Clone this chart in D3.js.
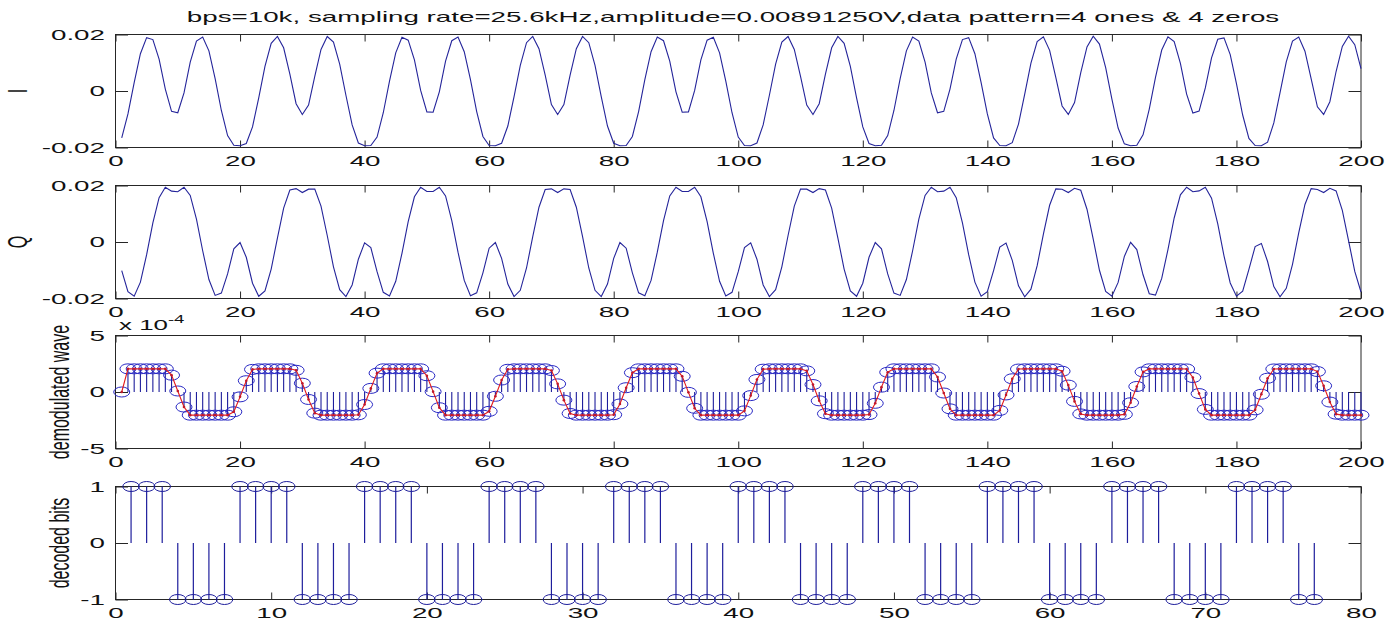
<!DOCTYPE html>
<html lang="en">
<head>
<meta charset="UTF-8" />
<title>bps=10k demodulation</title>
<script src="https://cdn.jsdelivr.net/npm/d3@7"></script>
<style>
  body { margin: 0; background: #fff; }
  svg { display: block; font-family: 'Liberation Sans', Arial, sans-serif; }
</style>
</head>
<body>
<div id="chart"></div>
<script>
const titleText = 'bps=10k, sampling rate=25.6kHz,amplitude=0.00891250V,data pattern=4 ones & 4 zeros'
const yLabels = ['I', 'Q', 'demodulated wave', 'decoded bits']

const sampleTicks = [0, 20, 40, 60, 80, 100, 120, 140, 160, 180, 200]
const bitTicks = [0, 10, 20, 30, 40, 50, 60, 70, 80]
const iqTicks = [-0.02, 0, 0.02]
const demodTicks = [-5, 0, 5]
const bitLevelTicks = [-1, 0, 1]

// samples 1..200
const iSignal = [
  -0.0166,-0.0081,0.0030,0.0132,0.0189,0.0182,0.0113,0.0007,-0.0072,-0.0077,-0.0007,0.0102,0.0177,0.0191,0.0142,0.0044,-0.0069,-0.0158,-0.0192,-0.0194,
  -0.0186,-0.0127,-0.0024,0.0087,0.0169,0.0193,0.0153,0.0060,-0.0045,-0.0083,-0.0050,0.0052,0.0147,0.0193,0.0173,0.0095,-0.0015,-0.0120,-0.0184,-0.0194,
  -0.0193,-0.0163,-0.0077,0.0035,0.0135,0.0190,0.0180,0.0110,0.0002,-0.0074,-0.0075,-0.0003,0.0106,0.0178,0.0191,0.0139,0.0040,-0.0073,-0.0161,-0.0193,
  -0.0194,-0.0185,-0.0124,-0.0020,0.0091,0.0171,0.0193,0.0150,0.0056,-0.0048,-0.0083,-0.0048,0.0056,0.0150,0.0193,0.0171,0.0091,-0.0020,-0.0124,-0.0185,
  -0.0194,-0.0193,-0.0161,-0.0073,0.0040,0.0139,0.0191,0.0178,0.0106,-0.0003,-0.0075,-0.0074,0.0002,0.0110,0.0180,0.0190,0.0135,0.0035,-0.0077,-0.0163,
  -0.0193,-0.0194,-0.0184,-0.0120,-0.0015,0.0095,0.0173,0.0193,0.0147,0.0052,-0.0050,-0.0083,-0.0045,0.0060,0.0153,0.0193,0.0169,0.0087,-0.0024,-0.0127,
  -0.0186,-0.0194,-0.0192,-0.0158,-0.0069,0.0044,0.0142,0.0191,0.0177,0.0102,-0.0007,-0.0077,-0.0072,0.0007,0.0113,0.0182,0.0189,0.0132,0.0030,-0.0081,
  -0.0166,-0.0193,-0.0194,-0.0183,-0.0117,-0.0011,0.0099,0.0175,0.0192,0.0144,0.0047,-0.0053,-0.0083,-0.0041,0.0065,0.0156,0.0194,0.0166,0.0083,-0.0029,
  -0.0131,-0.0187,-0.0194,-0.0192,-0.0155,-0.0064,0.0048,0.0145,0.0192,0.0175,0.0098,-0.0011,-0.0078,-0.0071,0.0011,0.0117,0.0183,0.0188,0.0129,0.0026,
  -0.0085,-0.0168,-0.0193,-0.0194,-0.0181,-0.0113,-0.0006,0.0103,0.0177,0.0191,0.0141,0.0043,-0.0056,-0.0083,-0.0038,0.0069,0.0158,0.0194,0.0164,0.0079
]

const qSignal = [
  -0.0101,-0.0176,-0.0192,-0.0142,-0.0045,0.0068,0.0157,0.0194,0.0180,0.0178,0.0194,0.0165,0.0081,-0.0031,-0.0133,-0.0189,-0.0181,-0.0113,-0.0024,-0.0002,
  -0.0054,-0.0146,-0.0192,-0.0173,-0.0096,0.0014,0.0120,0.0184,0.0189,0.0175,0.0187,0.0187,0.0127,0.0023,-0.0088,-0.0169,-0.0193,-0.0152,-0.0061,-0.0003,
  -0.0020,-0.0105,-0.0178,-0.0191,-0.0139,-0.0040,0.0072,0.0160,0.0194,0.0179,0.0179,0.0194,0.0163,0.0076,-0.0036,-0.0136,-0.0190,-0.0180,-0.0109,-0.0022,
  -0.0002,-0.0058,-0.0149,-0.0193,-0.0171,-0.0092,0.0019,0.0123,0.0186,0.0188,0.0175,0.0188,0.0186,0.0123,0.0019,-0.0092,-0.0171,-0.0193,-0.0149,-0.0058,
  -0.0002,-0.0022,-0.0109,-0.0180,-0.0190,-0.0136,-0.0036,0.0076,0.0163,0.0194,0.0179,0.0179,0.0194,0.0160,0.0072,-0.0040,-0.0139,-0.0191,-0.0178,-0.0105,
  -0.0020,-0.0003,-0.0061,-0.0152,-0.0193,-0.0169,-0.0088,0.0023,0.0127,0.0187,0.0187,0.0175,0.0189,0.0184,0.0120,0.0014,-0.0096,-0.0173,-0.0192,-0.0146,
  -0.0054,-0.0002,-0.0024,-0.0113,-0.0181,-0.0189,-0.0133,-0.0031,0.0081,0.0165,0.0194,0.0178,0.0180,0.0194,0.0157,0.0068,-0.0045,-0.0142,-0.0192,-0.0176,
  -0.0101,-0.0018,-0.0004,-0.0065,-0.0155,-0.0194,-0.0167,-0.0084,0.0028,0.0130,0.0188,0.0187,0.0175,0.0190,0.0183,0.0116,0.0010,-0.0100,-0.0175,-0.0192,
  -0.0143,-0.0051,-0.0001,-0.0027,-0.0116,-0.0183,-0.0188,-0.0129,-0.0027,0.0085,0.0167,0.0194,0.0178,0.0181,0.0194,0.0155,0.0064,-0.0049,-0.0145,-0.0192,
  -0.0174,-0.0097,-0.0016,-0.0005,-0.0069,-0.0158,-0.0194,-0.0164,-0.0079,0.0032,0.0133,0.0189,0.0186,0.0175,0.0190,0.0181,0.0112,0.0005,-0.0104,-0.0177
]

// demodulated wave, units of 1e-4
const demodWave = [
  0,2.05,2.05,2.05,2.05,2.05,2.05,2.05,1.49,0.09,-1.33,-2.05,-2.05,-2.05,-2.05,-2.05,-2.05,-2.05,-1.75,-0.43,
  1.00,2.00,2.05,2.05,2.05,2.05,2.05,2.05,1.92,0.78,-0.66,-1.87,-2.05,-2.05,-2.05,-2.05,-2.05,-2.05,-2.02,-1.11,
  0.32,1.67,2.05,2.05,2.05,2.05,2.05,2.05,2.05,1.44,0.03,-1.39,-2.05,-2.05,-2.05,-2.05,-2.05,-2.05,-2.05,-1.71,
  -0.38,1.06,2.01,2.05,2.05,2.05,2.05,2.05,2.05,1.90,0.72,-0.72,-1.90,-2.05,-2.05,-2.05,-2.05,-2.05,-2.05,-2.01,
  -1.06,0.38,1.71,2.05,2.05,2.05,2.05,2.05,2.05,2.05,1.39,-0.03,-1.44,-2.05,-2.05,-2.05,-2.05,-2.05,-2.05,-2.05,
  -1.67,-0.32,1.11,2.02,2.05,2.05,2.05,2.05,2.05,2.05,1.87,0.66,-0.78,-1.92,-2.05,-2.05,-2.05,-2.05,-2.05,-2.05,
  -2.00,-1.00,0.43,1.75,2.05,2.05,2.05,2.05,2.05,2.05,2.05,1.33,-0.09,-1.49,-2.05,-2.05,-2.05,-2.05,-2.05,-2.05,
  -2.05,-1.63,-0.26,1.17,2.03,2.05,2.05,2.05,2.05,2.05,2.05,1.84,0.61,-0.83,-1.94,-2.05,-2.05,-2.05,-2.05,-2.05,
  -2.05,-1.98,-0.95,0.49,1.78,2.05,2.05,2.05,2.05,2.05,2.05,2.04,1.28,-0.14,-1.54,-2.05,-2.05,-2.05,-2.05,-2.05,
  -2.05,-2.05,-1.58,-0.20,1.22,2.04,2.05,2.05,2.05,2.05,2.05,2.05,1.81,0.55,-0.89,-1.96,-2.05,-2.05,-2.05,-2.05
]

// bits 1..77
const decodedBits = [
  1,1,1,-1,-1,-1,-1,1,1,1,1,-1,-1,-1,-1,1,1,1,1,-1,
  -1,-1,-1,1,1,1,1,-1,-1,-1,-1,1,1,1,1,-1,-1,-1,-1,1,
  1,1,1,-1,-1,-1,-1,1,1,1,1,-1,-1,-1,-1,1,1,1,1,-1,
  -1,-1,-1,1,1,1,1,-1,-1,-1,-1,1,1,1,1,-1,-1
]

const W = 1396, H = 622
const left = 115.5, right = 1361
const panelTop = [34.5, 185.5, 335.5, 486.5]
const panelH = 113
const sx = 1.85          // the picture is stretched sideways, text too
const axisColor = '#262626'
const lineColor = '#24249a'
const stemColor = '#1e1e9c'
const ringColor = '#2828c4'

const svg = d3.select('#chart').append('svg').attr('width', W).attr('height', H)

const xSample = d3.scaleLinear().domain([0, 200]).range([left, right])
const xBit = d3.scaleLinear().domain([0, 80]).range([left, right])

function panel(i, x, xTicks, yDomain, yTicks) {
  const top = panelTop[i]
  const y = d3.scaleLinear().domain(yDomain).range([top + panelH, top])
  const g = svg.append('g')

  g.append('rect')
    .attr('x', left).attr('y', top)
    .attr('width', right - left).attr('height', panelH)
    .attr('fill', '#fff').attr('stroke', axisColor)

  const fix = sel => {
    sel.attr('font-size', 15).attr('font-family', null).attr('color', axisColor)
    sel.select('.domain').remove()
    sel.selectAll('text').attr('transform', `scale(${sx},1)`).attr('fill', '#111')
  }

  g.append('g').attr('transform', `translate(0,${top + panelH})`)
    .call(d3.axisBottom(x).tickValues(xTicks).tickSizeInner(-7).tickSizeOuter(0).tickPadding(8.3).tickFormat(String))
    .call(fix)
  g.append('g').attr('transform', `translate(0,${top})`)
    .call(d3.axisTop(x).tickValues(xTicks).tickSizeInner(-7).tickSizeOuter(0).tickFormat(''))
    .call(fix)
  g.append('g').attr('transform', `translate(${left},0)`)
    .call(d3.axisLeft(y).tickValues(yTicks).tickSizeInner(-12.5).tickSizeOuter(0).tickPadding(5.7).tickFormat(String))
    .call(fix)
  g.append('g').attr('transform', `translate(${right},0)`)
    .call(d3.axisRight(y).tickValues(yTicks).tickSizeInner(-12.5).tickSizeOuter(0).tickFormat(''))
    .call(fix)

  return { g, y, mid: top + panelH / 2 }
}

function yLabel(text, xPos, yPos) {
  svg.append('text')
    .attr('transform', `translate(${xPos},${yPos}) scale(1.75,1) rotate(-90)`)
    .attr('text-anchor', 'middle')
    .attr('font-size', 16)
    .attr('fill', '#111')
    .text(text)
}

// title
svg.append('text')
  .attr('transform', `translate(733,21.5) scale(${sx},1)`)
  .attr('text-anchor', 'middle')
  .attr('font-size', 15)
  .attr('fill', '#111')
  .text(titleText)

// I and Q
;[iSignal, qSignal].forEach((sig, k) => {
  const p = panel(k, xSample, sampleTicks, [-0.02, 0.02], iqTicks)
  p.g.append('path')
    .datum(sig)
    .attr('fill', 'none')
    .attr('stroke', lineColor)
    .attr('stroke-width', 1.1)
    .attr('d', d3.line().x((d, i) => xSample(i + 1)).y(d => p.y(d)))
  yLabel(yLabels[k], 27, p.mid)
})

// demodulated wave
const pd = panel(2, xSample, sampleTicks, [-5, 5], demodTicks)
pd.g.selectAll('line.stem').data(demodWave).join('line')
  .attr('class', 'stem')
  .attr('x1', (d, i) => xSample(i + 1)).attr('x2', (d, i) => xSample(i + 1))
  .attr('y1', pd.y(0)).attr('y2', d => pd.y(d))
  .attr('stroke', stemColor).attr('stroke-width', 1.1)
pd.g.selectAll('ellipse').data(demodWave).join('ellipse')
  .attr('cx', (d, i) => xSample(i + 1)).attr('cy', d => pd.y(d))
  .attr('rx', 8).attr('ry', 5)
  .attr('fill', 'none').attr('stroke', ringColor).attr('stroke-width', 1)
pd.g.append('path')
  .datum(demodWave)
  .attr('fill', 'none').attr('stroke', '#e41a1a').attr('stroke-width', 1.1)
  .attr('d', d3.line().x((d, i) => xSample(i + 1)).y(d => pd.y(d)))
pd.g.selectAll('circle.dot').data(demodWave).join('circle')
  .attr('class', 'dot')
  .attr('cx', (d, i) => xSample(i + 1)).attr('cy', d => pd.y(d))
  .attr('r', 1.3).attr('fill', '#c0182a')
yLabel(yLabels[2], 69, pd.mid)

// exponent note sits just under the Q axis labels
svg.append('text')
  .attr('transform', `translate(119,330) scale(${sx},1)`)
  .attr('font-size', 14)
  .attr('fill', '#111')
  .text('x 10')
  .append('tspan').attr('dy', -7).attr('font-size', 10).text('-4')

// decoded bits
const pb = panel(3, xBit, bitTicks, [-1, 1], bitLevelTicks)
pb.g.selectAll('line.stem').data(decodedBits).join('line')
  .attr('class', 'stem')
  .attr('x1', (d, i) => xBit(i + 1)).attr('x2', (d, i) => xBit(i + 1))
  .attr('y1', pb.y(0)).attr('y2', d => pb.y(d))
  .attr('stroke', stemColor).attr('stroke-width', 1.2)
pb.g.selectAll('ellipse').data(decodedBits).join('ellipse')
  .attr('cx', (d, i) => xBit(i + 1)).attr('cy', d => pb.y(d))
  .attr('rx', 8.3).attr('ry', 5)
  .attr('fill', 'none').attr('stroke', stemColor).attr('stroke-width', 1)
yLabel(yLabels[3], 69, pb.mid)
</script>
</body>
</html>
